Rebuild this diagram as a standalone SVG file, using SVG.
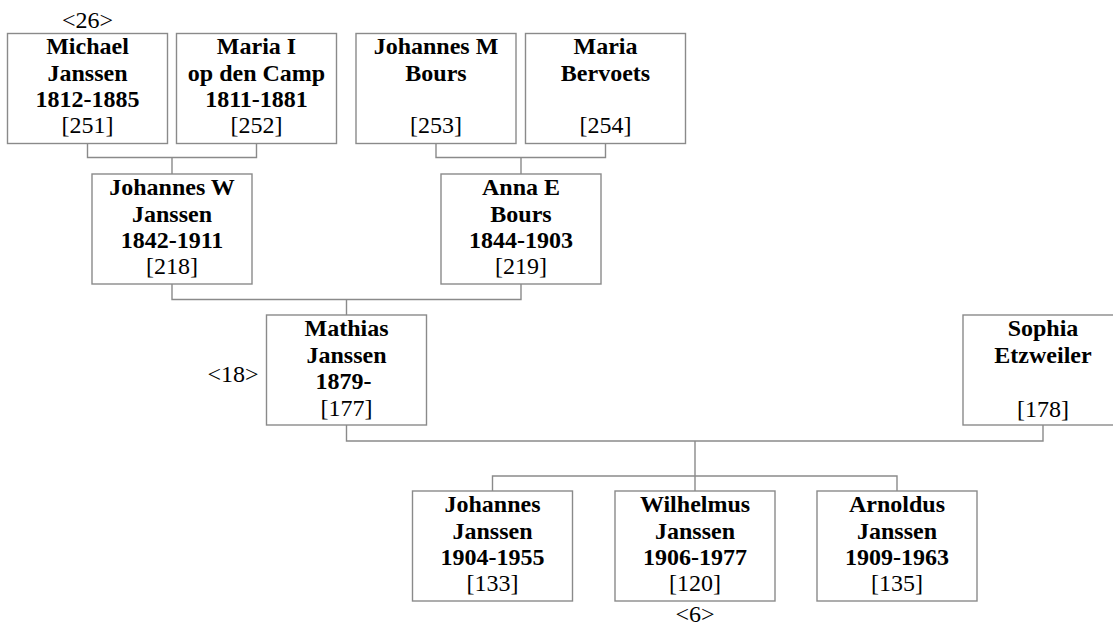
<svg xmlns="http://www.w3.org/2000/svg" width="1113" height="627" viewBox="0 0 1113 627">
<style>
  .box { fill: #ffffff; stroke: #8a8a8a; stroke-width: 1.4; }
  .conn { fill: none; stroke: #8a8a8a; stroke-width: 1.4; }
  text { font-family: "Liberation Serif", "Times New Roman", serif; font-size: 24px; fill: #000; text-anchor: middle; }
  .b { font-weight: bold; }
</style>
<rect x="0" y="0" width="1113" height="627" fill="#ffffff"/>
<g id="connectors">
  <path class="conn" d="M87.5 143.5 V157.5 H256.5 V143.5 M172 157.5 V174"/>
  <path class="conn" d="M436 143.5 V157.5 H605.5 V143.5 M521 157.5 V174"/>
  <path class="conn" d="M172 284 V299.5 H521 V284 M346.5 299.5 V315"/>
  <path class="conn" d="M346.5 425 V441 H1043 V425 M695 441 V491"/>
  <path class="conn" d="M492.5 491 V476 H897 V491"/>
</g>
<g id="n251">
  <rect class="box" x="7.5" y="33.5" width="160" height="110"/>
  <text x="87.5" y="28">&lt;26&gt;</text>
  <text class="b" x="87.5" y="54">Michael</text>
  <text class="b" x="87.5" y="80.5">Janssen</text>
  <text class="b" x="87.5" y="107">1812-1885</text>
  <text x="87.5" y="133">[251]</text>
</g>
<g id="n252">
  <rect class="box" x="176.5" y="33.5" width="160" height="110"/>
  <text class="b" x="256.5" y="54">Maria I</text>
  <text class="b" x="256.5" y="80.5">op den Camp</text>
  <text class="b" x="256.5" y="107">1811-1881</text>
  <text x="256.5" y="133">[252]</text>
</g>
<g id="n253">
  <rect class="box" x="356" y="33.5" width="160" height="110"/>
  <text class="b" x="436" y="54">Johannes M</text>
  <text class="b" x="436" y="80.5">Bours</text>
  <text x="436" y="133">[253]</text>
</g>
<g id="n254">
  <rect class="box" x="525.5" y="33.5" width="160" height="110"/>
  <text class="b" x="605.5" y="54">Maria</text>
  <text class="b" x="605.5" y="80.5">Bervoets</text>
  <text x="605.5" y="133">[254]</text>
</g>
<g id="n218">
  <rect class="box" x="92" y="174" width="160" height="110"/>
  <text class="b" x="172" y="195">Johannes W</text>
  <text class="b" x="172" y="221.5">Janssen</text>
  <text class="b" x="172" y="248">1842-1911</text>
  <text x="172" y="274">[218]</text>
</g>
<g id="n219">
  <rect class="box" x="441" y="174" width="160" height="110"/>
  <text class="b" x="521" y="195">Anna E</text>
  <text class="b" x="521" y="221.5">Bours</text>
  <text class="b" x="521" y="248">1844-1903</text>
  <text x="521" y="274">[219]</text>
</g>
<g id="n177">
  <rect class="box" x="266.5" y="315" width="160" height="110"/>
  <text x="233" y="382">&lt;18&gt;</text>
  <text class="b" x="346.5" y="336">Mathias</text>
  <text class="b" x="346.5" y="362.5">Janssen</text>
  <text class="b" x="343.5" y="389">1879-</text>
  <text x="346.5" y="416">[177]</text>
</g>
<g id="n178">
  <rect class="box" x="963" y="315" width="160" height="110"/>
  <text class="b" x="1043" y="336">Sophia</text>
  <text class="b" x="1043" y="362.5">Etzweiler</text>
  <text x="1043" y="417">[178]</text>
</g>
<g id="n133">
  <rect class="box" x="412.5" y="491" width="160" height="110"/>
  <text class="b" x="492.5" y="512">Johannes</text>
  <text class="b" x="492.5" y="538.5">Janssen</text>
  <text class="b" x="492.5" y="565">1904-1955</text>
  <text x="492.5" y="591">[133]</text>
</g>
<g id="n120">
  <rect class="box" x="615" y="491" width="160" height="110"/>
  <text class="b" x="695" y="512">Wilhelmus</text>
  <text class="b" x="695" y="538.5">Janssen</text>
  <text class="b" x="695" y="565">1906-1977</text>
  <text x="695" y="591">[120]</text>
  <text x="695" y="622">&lt;6&gt;</text>
</g>
<g id="n135">
  <rect class="box" x="817" y="491" width="160" height="110"/>
  <text class="b" x="897" y="512">Arnoldus</text>
  <text class="b" x="897" y="538.5">Janssen</text>
  <text class="b" x="897" y="565">1909-1963</text>
  <text x="897" y="591">[135]</text>
</g>
</svg>
